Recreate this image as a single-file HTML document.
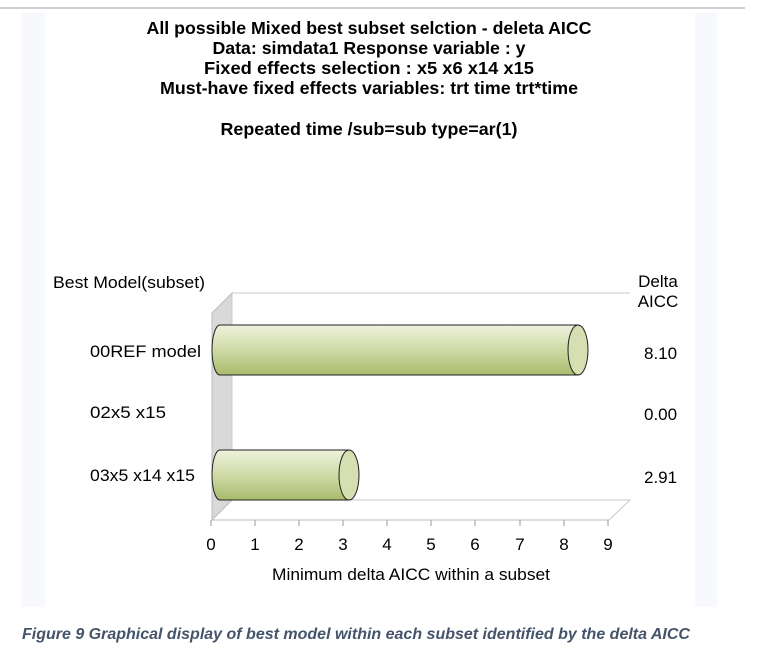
<!DOCTYPE html>
<html><head><meta charset="utf-8"><style>
body{margin:0;background:#fff;}
svg{display:block;font-family:"Liberation Sans",Arial,sans-serif;}
</style></head><body>
<svg width="759" height="654" viewBox="0 0 759 654">
<defs>
<linearGradient id="g" x1="0" y1="0" x2="0" y2="1">
<stop offset="0" stop-color="#eef2dc"/><stop offset="0.5" stop-color="#cfdaa6"/><stop offset="1" stop-color="#a9bb6c"/>
</linearGradient>
</defs>
<rect x="0" y="0" width="759" height="654" fill="#fff"/>
<line x1="0" y1="8" x2="745" y2="8" stroke="#d0d0d0" stroke-width="2"/>
<rect x="22" y="12" width="695" height="595" fill="#f8f9fd"/>
<rect x="45" y="12" width="650" height="595" fill="#fff"/>
<g font-weight="bold" font-size="17.5" text-anchor="middle" fill="#000">
<text x="369" y="34" textLength="445" lengthAdjust="spacingAndGlyphs">All possible Mixed best subset selction - deleta AICC</text>
<text x="369" y="54" textLength="313" lengthAdjust="spacingAndGlyphs">Data: simdata1 Response variable : y</text>
<text x="369" y="74" textLength="330" lengthAdjust="spacingAndGlyphs">Fixed effects selection :  x5  x6 x14 x15</text>
<text x="369" y="94" textLength="418" lengthAdjust="spacingAndGlyphs">Must-have fixed effects variables: trt time trt*time</text>
<text x="369" y="135" textLength="297" lengthAdjust="spacingAndGlyphs">Repeated time /sub=sub type=ar(1)</text>
</g>
<polygon points="212,313 232,293 232,500 212,520" fill="#d9d9d9" stroke="#bdbdbd"/>
<polyline points="232,500 232,293 630,293" fill="none" stroke="#c8c8c8"/>
<polyline points="232,500 630,500 609,520" fill="none" stroke="#c8c8c8"/>
<line x1="212" y1="520" x2="609" y2="520" stroke="#bdbdbd"/>
<g stroke="#999">
<line x1="211" y1="520" x2="211" y2="526"/><line x1="255" y1="520" x2="255" y2="526"/><line x1="299" y1="520" x2="299" y2="526"/><line x1="343" y1="520" x2="343" y2="526"/><line x1="387" y1="520" x2="387" y2="526"/><line x1="431" y1="520" x2="431" y2="526"/><line x1="475" y1="520" x2="475" y2="526"/><line x1="520" y1="520" x2="520" y2="526"/><line x1="564" y1="520" x2="564" y2="526"/><line x1="608" y1="520" x2="608" y2="526"/>
</g>
<path d="M220,325 L578,325 L578,375 L220,375 A8,25 0 0 1 220,325 Z" fill="url(#g)" stroke="#222"/>
<ellipse cx="578" cy="350" rx="10" ry="25" fill="#d5dfb2" stroke="#222"/>
<path d="M220,450 L349,450 L349,500 L220,500 A8,25 0 0 1 220,450 Z" fill="url(#g)" stroke="#222"/>
<ellipse cx="349" cy="475" rx="10" ry="25" fill="#d5dfb2" stroke="#222"/>
<g font-size="17" fill="#000">
<text x="53" y="288" textLength="152" lengthAdjust="spacingAndGlyphs">Best Model(subset)</text>
<text x="90" y="357" textLength="111" lengthAdjust="spacingAndGlyphs">00REF model</text>
<text x="90" y="418" textLength="76" lengthAdjust="spacingAndGlyphs">02x5 x15</text>
<text x="90" y="481" textLength="105" lengthAdjust="spacingAndGlyphs">03x5 x14 x15</text>
<text x="658" y="287" text-anchor="middle">Delta</text>
<text x="658" y="307" text-anchor="middle">AICC</text>
<text x="644" y="359">8.10</text>
<text x="644" y="420">0.00</text>
<text x="644" y="483">2.91</text>
</g>
<g font-size="17" text-anchor="middle">
<text x="211" y="550">0</text><text x="255" y="550">1</text><text x="299" y="550">2</text><text x="343" y="550">3</text><text x="387" y="550">4</text><text x="431" y="550">5</text><text x="475" y="550">6</text><text x="520" y="550">7</text><text x="564" y="550">8</text><text x="608" y="550">9</text>
<text x="411" y="580" textLength="278" lengthAdjust="spacingAndGlyphs">Minimum delta AICC within a subset</text>
</g>
<text x="22" y="639" font-style="italic" font-weight="bold" font-size="15.5" fill="#44546a" textLength="668" lengthAdjust="spacingAndGlyphs">Figure 9 Graphical display of best model within each subset identified by the delta AICC</text>
</svg>
</body></html>
